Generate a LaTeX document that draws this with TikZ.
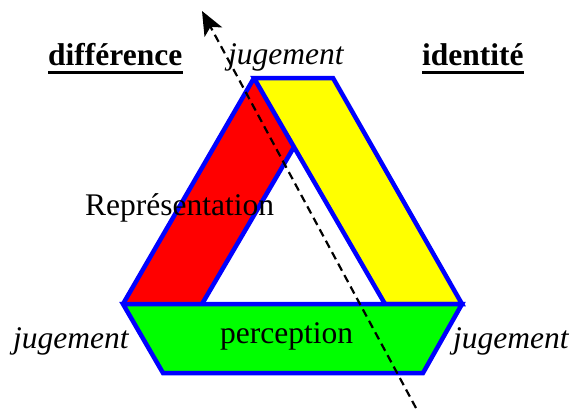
\documentclass[tikz,border=0pt]{standalone}
\usepackage{fontspec}
\setmainfont{Liberation Serif}
\usetikzlibrary{arrows.meta}
\definecolor{pyellow}{RGB}{255,255,0}
\definecolor{pgreen}{RGB}{0,255,0}
\definecolor{pred}{RGB}{255,0,0}
\definecolor{pblue}{RGB}{0,0,255}
\begin{document}
\begin{tikzpicture}[x=1pt,y=-1pt,
  band/.style={draw=pblue,line width=4.5pt,line join=miter},
  lbl/.style={inner sep=0pt,anchor=base west,font=\fontsize{31.5}{36}\selectfont},
  ilbl/.style={lbl,font=\fontsize{31.5}{36}\selectfont\itshape},
  blbl/.style={lbl,font=\fontsize{31.5}{36}\selectfont\bfseries},
  uline/.style={line width=3.5pt},
  axis/.style={line width=2.2pt,dash pattern=on 8pt off 5pt,-{Stealth[length=24pt,width=20pt,inset=6pt]}}]
\useasboundingbox (0,0) rectangle (581,410);
% red band
\fill[pred] (254,78) -- (123,304) -- (202,304) -- (294,147) -- cycle;
\draw[band] (254,78) -- (123,304) (202,304) -- (294,147);
% yellow band
\filldraw[band,fill=pyellow] (254,78) -- (333,78) -- (462,304) -- (385,304) -- cycle;
% green band
\filldraw[band,fill=pgreen] (123,304) -- (462,304) -- (423,373) -- (163,373) -- cycle;
% labels
\node[blbl] (dif) at (48,65) {différence};
\draw[uline] ([yshift=-7.5pt]dif.base west) -- ([yshift=-7.5pt]dif.base east);
\node[blbl] (ide) at (422,65) {identité};
\draw[uline] ([yshift=-7.5pt]ide.base west) -- ([yshift=-7.5pt]ide.base east);
\node[ilbl] (jt) at (228,64) {jugement};
\node[lbl] (rep) at (85,215) {Représentation};
\node[ilbl] (jl) at (13,348) {jugement};
\node[lbl] (per) at (220,343) {perception};
\node[ilbl] (jr) at (453,348) {jugement};
% dashed axis
\coordinate (a0) at (416,408);
\coordinate (a1) at (202,11);
\draw[axis] (a0) -- (a1);
\end{tikzpicture}
\end{document}
